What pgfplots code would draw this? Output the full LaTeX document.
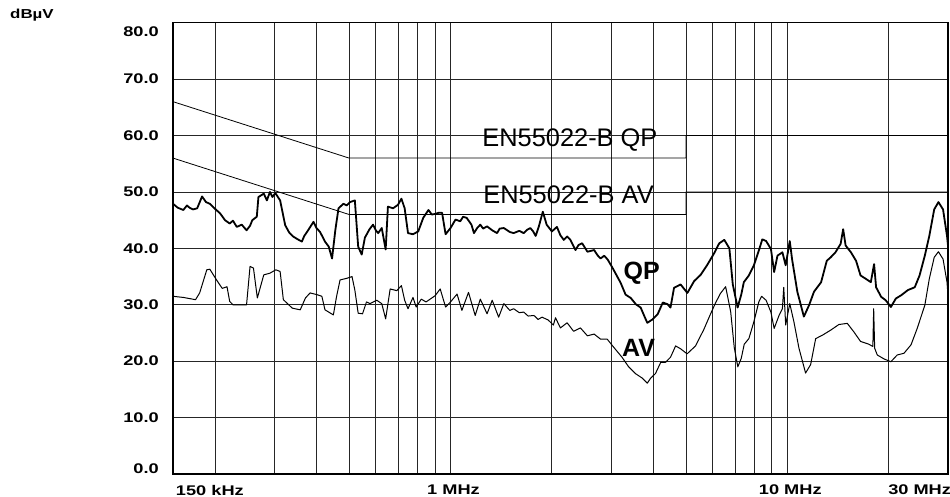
\documentclass[border=0pt]{standalone}
\usepackage{fontspec}
\setmainfont{Liberation Sans}
\newfontfamily\tickfont[FakeStretch=1.3]{Liberation Sans}
\usepackage{pgfplots}
\pgfplotsset{compat=1.18}
\begin{document}
\begin{tikzpicture}
\path[use as bounding box] (0,0) rectangle (950bp,497bp);
\node[anchor=west, inner sep=0pt, font=\tickfont\bfseries\fontsize{13bp}{15bp}\selectfont] at (10bp,482bp) {dBµV};
\begin{axis}[
  at={(173bp,23bp)}, anchor=south west,
  scale only axis, width=775bp, height=451.3bp,
  xmode=log, log basis x=10,
  xmin=0.15, xmax=30, ymin=0, ymax=80,
  xtick={0.15,1,10,30},
  xticklabels={\makebox[0pt][l]{150 kHz},1 MHz,10 MHz,\makebox[0pt][r]{30 MHz}},
  minor xtick={0.2,0.3,0.4,0.5,0.6,0.7,0.8,0.9,2,3,4,5,6,7,8,9,20},
  ytick={0,10,20,30,40,50,60,70,80},
  yticklabels={\raisebox{1bp}[0pt][0pt]{0.0},10.0,20.0,30.0,40.0,50.0,60.0,70.0,\raisebox{-14bp}[0pt][0pt]{80.0}},
  grid=both,
  major grid style={black!85, line width=0.8bp},
  minor grid style={black!85, line width=0.8bp},
  major tick length=0pt, minor tick length=0pt,
  axis line style={black, line width=1.5bp},
  ticklabel style={font=\tickfont\bfseries\fontsize{14bp}{16bp}\selectfont},
  yticklabel style={anchor=east, inner sep=0pt, xshift=-14bp},
  xticklabel style={anchor=north, inner sep=0pt, yshift=-11bp, xshift=3bp},
]
% limit lines
\addplot[black, line width=0.8bp] coordinates {(0.15,66) (0.5,56) (5,56) (5,60) (30,60)};
\addplot[black, line width=0.8bp] coordinates {(0.15,56) (0.5,46) (5,46) (5,50) (30,50)};
% QP trace
\addplot[black, line width=1.8bp, line join=round] coordinates {
(0.150,47.9) (0.155,47.2) (0.161,46.8) (0.165,47.6) (0.168,47.2) (0.172,46.9) (0.177,47.1) (0.183,49.2) (0.188,48.2) (0.193,47.9)
(0.200,47.0) (0.207,46.2) (0.214,45.0) (0.221,44.4) (0.226,44.9) (0.232,43.8) (0.240,44.2) (0.248,43.2) (0.254,44.0) (0.258,45.0)
(0.266,45.6) (0.269,49.1) (0.279,49.7) (0.285,48.5) (0.291,50.0) (0.296,49.1) (0.302,49.8) (0.312,48.5) (0.323,44.1)
(0.332,42.8) (0.341,42.1) (0.352,41.6) (0.362,41.2) (0.368,42.2) (0.375,42.9) (0.392,44.7) (0.400,43.6) (0.410,42.9)
(0.424,41.2) (0.435,40.3) (0.445,38.2) (0.455,43.2) (0.465,47.1) (0.481,47.9) (0.492,47.6) (0.503,48.2) (0.520,48.5)
(0.532,40.3) (0.545,38.9) (0.557,41.9) (0.575,43.4) (0.589,44.2) (0.600,43.2) (0.610,42.7) (0.625,43.6) (0.642,39.8)
(0.652,47.4) (0.675,47.1) (0.698,47.7) (0.715,48.8) (0.731,47.1) (0.748,42.7) (0.774,42.5) (0.802,43.0) (0.830,45.4)
(0.860,46.8) (0.880,46.0) (0.900,46.1) (0.922,46.3) (0.944,46.3) (0.967,42.5) (1.0,43.6) (1.035,45.1) (1.069,44.8)
(1.090,45.6) (1.117,45.4) (1.154,44.2) (1.174,42.7) (1.200,43.6) (1.226,44.2) (1.250,43.5) (1.284,43.9) (1.330,43.2)
(1.375,42.7) (1.40,43.5) (1.44,43.6) (1.50,42.9) (1.54,42.7) (1.60,43.1) (1.65,42.7) (1.69,43.3) (1.726,43.6) (1.76,43.0)
(1.79,42.2) (1.83,43.9) (1.88,46.5) (1.93,44.2) (2.0,43.0) (2.07,43.8) (2.12,42.3) (2.17,41.5) (2.22,42.1) (2.27,41.5)
(2.35,39.7) (2.40,40.6) (2.46,40.9) (2.55,39.4) (2.67,39.7) (2.73,38.8) (2.79,38.2) (2.86,38.7) (2.93,38.0) (3.03,36.5)
(3.20,33.9) (3.31,31.8) (3.43,31.2) (3.55,30.1) (3.67,29.5) (3.75,28.2) (3.84,26.8) (3.98,27.4) (4.12,28.3) (4.27,30.4)
(4.41,30.1) (4.50,29.5) (4.61,33.0) (4.82,33.6) (5.05,32.1) (5.29,34.2) (5.53,35.3) (5.79,37.1) (6.06,39.1) (6.28,40.9)
(6.50,41.5) (6.73,40.0) (6.89,33.6) (7.12,29.5) (7.30,31.8) (7.43,34.0) (7.69,35.2) (7.96,37.0) (8.23,39.6) (8.43,41.6)
(8.65,41.3) (8.94,39.9) (9.14,35.8) (9.35,38.7) (9.67,39.3) (9.89,37.0) (10.17,41.3) (10.33,38.1) (10.71,32.3) (11.2,27.9)
(11.6,29.9) (12.0,32.3) (12.6,34.0) (13.1,37.8) (13.45,38.4) (13.9,39.3) (14.4,40.8) (14.65,43.4) (14.9,40.5) (15.45,39.3)
(16.0,37.8) (16.5,35.2) (17.1,34.6) (17.7,34.0) (18.1,37.2) (18.35,33.1) (19.0,31.4) (19.6,30.8) (20.3,29.6) (21.0,31.1)
(21.8,31.7) (22.8,32.6) (23.9,33.1) (24.7,35.2) (25.6,38.7) (26.4,42.2) (27.3,46.9) (28.1,48.2) (29.0,46.9) (29.8,42.2) (30.0,40.5)
};
% AV trace
\addplot[black, line width=1.0bp, line join=round] coordinates {
(0.150,31.5) (0.161,31.3) (0.175,30.9) (0.180,32.1) (0.189,36.2) (0.193,36.3) (0.202,34.4) (0.210,32.9) (0.217,33.2)
(0.221,30.6) (0.226,30.0) (0.248,30.0) (0.254,36.8) (0.260,36.5) (0.267,31.2) (0.279,35.3) (0.291,35.6) (0.303,36.2)
(0.312,35.9) (0.319,30.9) (0.339,29.4) (0.358,29.1) (0.371,31.2) (0.383,32.1) (0.401,31.8) (0.415,31.5) (0.424,29.1)
(0.449,28.2) (0.459,31.5) (0.470,34.4) (0.493,34.7) (0.510,35.0) (0.520,32.6) (0.532,28.5) (0.548,28.4) (0.563,30.5)
(0.577,30.2) (0.604,30.8) (0.625,30.2) (0.642,27.5) (0.662,32.8) (0.693,32.5) (0.715,33.4) (0.731,30.8) (0.748,29.3)
(0.774,31.3) (0.791,29.6) (0.819,31.0) (0.846,30.5) (0.900,31.6) (0.932,32.8) (0.967,29.6) (1.0,30.5) (1.046,31.9)
(1.081,29.0) (1.131,32.2) (1.184,28.1) (1.226,31.0) (1.284,28.4) (1.330,30.8) (1.39,27.8) (1.44,30.2) (1.50,29.0)
(1.54,29.3) (1.60,28.6) (1.65,28.7) (1.70,28.0) (1.77,28.1) (1.82,27.4) (1.87,27.8) (1.95,27.3) (2.02,26.4) (2.05,27.7)
(2.12,25.9) (2.22,26.8) (2.32,25.3) (2.43,25.9) (2.55,24.5) (2.67,24.8) (2.79,23.9) (2.92,23.9) (3.03,22.7) (3.23,20.7)
(3.38,19.0) (3.54,17.8) (3.71,17.0) (3.84,16.1) (3.93,17.0) (4.06,17.8) (4.21,19.8) (4.35,19.8) (4.50,20.7) (4.66,22.7)
(4.82,22.2) (5.04,21.3) (5.34,22.7) (5.65,25.6) (5.91,28.3) (6.12,30.3) (6.33,32.0) (6.56,33.2) (6.79,28.8) (6.96,22.4)
(7.13,19.0) (7.30,20.5) (7.45,23.0) (7.69,24.0) (7.96,27.0) (8.23,30.5) (8.39,31.5) (8.65,30.8) (8.94,28.7) (9.14,25.8)
(9.45,28.1) (9.67,29.3) (9.76,33.1) (9.89,26.4) (10.17,30.2) (10.46,27.0) (10.83,22.3) (11.33,17.9) (11.73,19.4)
(12.14,24.0) (12.71,24.6) (13.45,25.5) (14.23,26.5) (15.07,26.7) (15.76,25.2) (16.5,23.5) (17.47,23.0) (17.95,22.6)
(18.05,29.3) (18.17,22.3) (18.5,21.1) (19.37,20.4) (20.3,19.9) (21.2,21.1) (22.2,21.4) (23.3,22.9) (24.3,25.8)
(25.6,29.9) (26.4,34.6) (27.3,38.4) (28.1,39.4) (29.0,38.1) (29.8,34.0) (30.0,31.6)
};
\node[anchor=base west, inner sep=0pt, font=\fontsize{25.4bp}{28bp}\selectfont] at (axis cs:1.242,58.0) {EN55022-B QP};
\node[anchor=base west, inner sep=0pt, font=\fontsize{25.4bp}{28bp}\selectfont] at (axis cs:1.25,48.0) {EN55022-B AV};
\node[anchor=base west, inner sep=0pt, font=\bfseries\fontsize{25bp}{28bp}\selectfont] at (axis cs:3.26,34.4) {QP};
\node[anchor=base west, inner sep=0pt, font=\bfseries\fontsize{25bp}{28bp}\selectfont] at (axis cs:3.23,20.8) {AV};
\end{axis}
\end{tikzpicture}
\end{document}
